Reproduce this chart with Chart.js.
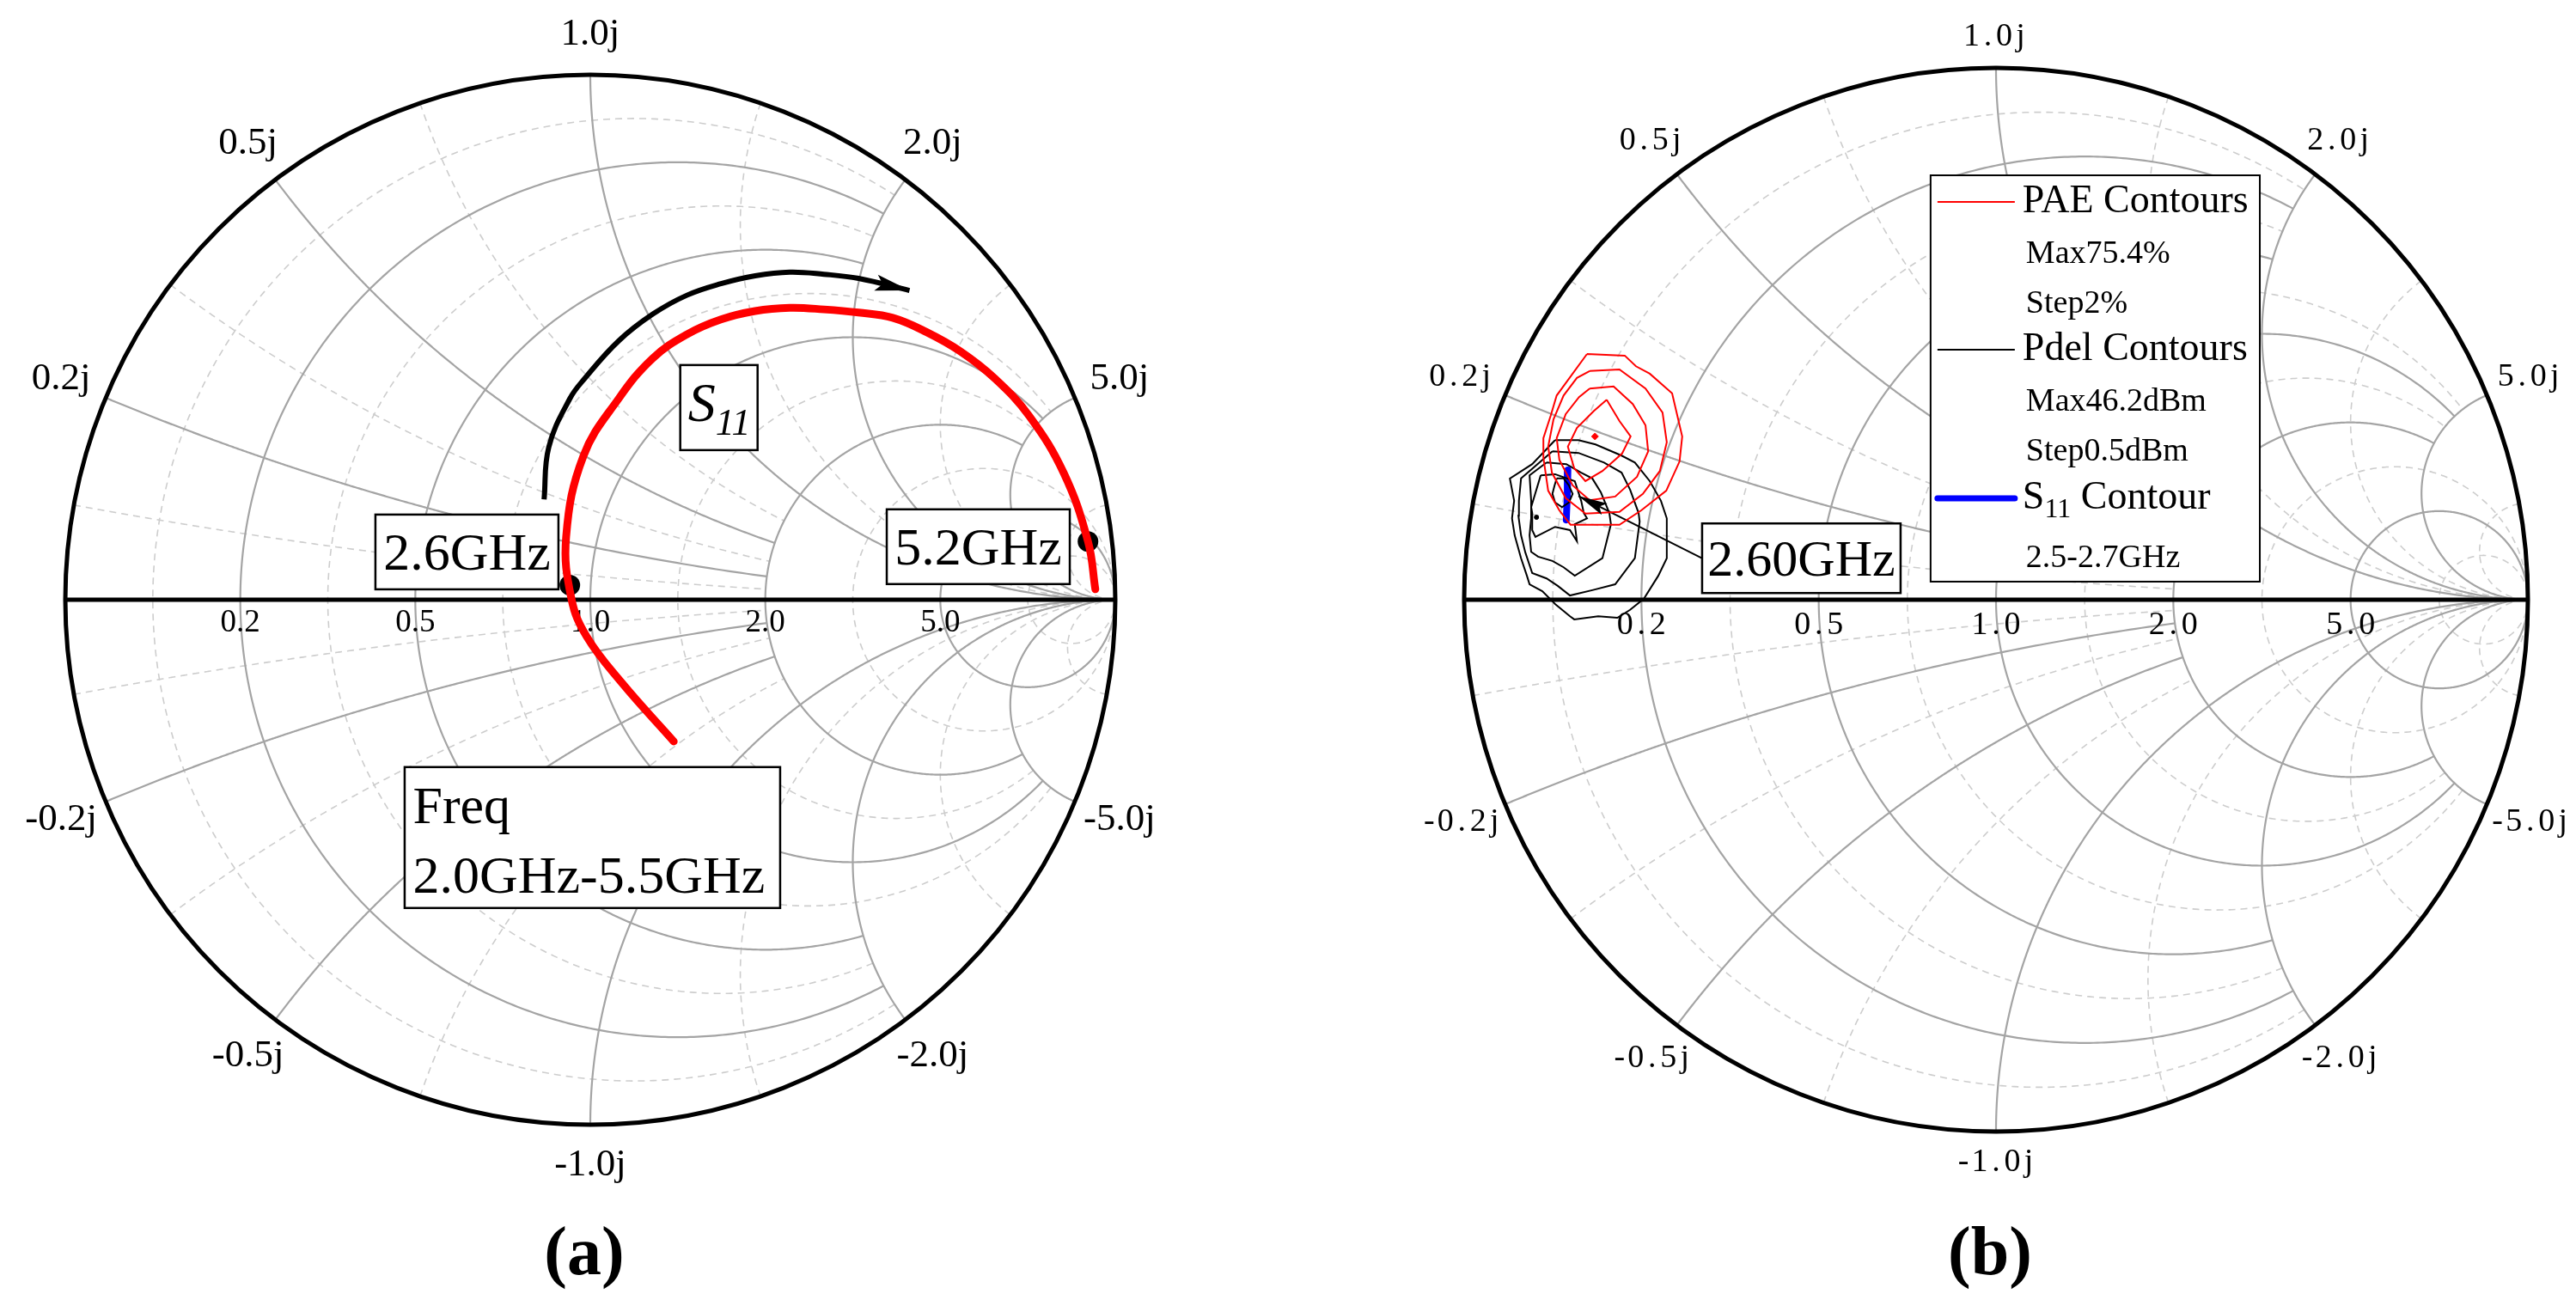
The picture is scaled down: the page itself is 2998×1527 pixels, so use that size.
<!DOCTYPE html>
<html>
<head>
<meta charset="utf-8">
<title>Smith charts</title>
<script src="https://cdn.jsdelivr.net/npm/chart.js@4.4.0/dist/chart.umd.min.js"></script>
<style>
  body { margin: 0; background: #fff; }
  .panel { position: absolute; top: 0; }
</style>
</head>
<body>
<canvas id="chartA" class="panel" style="left:0" width="1499" height="1527"></canvas>
<canvas id="chartB" class="panel" style="left:1499px" width="1499" height="1527"></canvas>
<script>
// smith grid values (normalised z)
const gridMajor = [0.2, 0.5, 1.0, 2.0, 5.0];
const gridMinor = [1 / 11, 1 / 3, 5 / 7, 1.4, 3, 11];
// where each circle / arc gets cut off
const majorCircleStop = [2, 2, 5, 5, Infinity];
const majorArcStop = [2, 2, Infinity, Infinity, Infinity];
const minorCircleStop = [2, 2, 5, 5, Infinity, Infinity];
const minorArcStop = [2, 2, 2, Infinity, Infinity, Infinity];

// (a) S11 sweep 2.0-5.5 GHz, reflection coefficient
const s11Re = [0.159, 0.059, -0.007, -0.036, -0.046, -0.013, 0.054, 0.119, 0.185, 0.249, 0.314, 0.380, 0.445, 0.511, 0.576, 0.640, 0.705, 0.771, 0.836, 0.902, 0.948, 0.962];
const s11Im = [-0.270, -0.157, -0.070, 0.002, 0.120, 0.274, 0.383, 0.460, 0.506, 0.534, 0.550, 0.556, 0.553, 0.547, 0.537, 0.510, 0.473, 0.421, 0.350, 0.241, 0.111, 0.020];
const sweepArrowRe = [-0.088, -0.079, -0.039, -0.011, 0.054, 0.119, 0.184, 0.249, 0.314, 0.380, 0.445, 0.511, 0.608];
const sweepArrowIm = [0.191, 0.291, 0.383, 0.421, 0.493, 0.544, 0.580, 0.602, 0.617, 0.624, 0.620, 0.612, 0.589];
const markerLabels = ['2.6GHz', '5.2GHz'];
const markerRe = [-0.039, 0.948];
const markerIm = [0.028, 0.111];
const sweepText = ['Freq', '2.0GHz-5.5GHz'];

// (b) load pull contours
const pae1 = [[-0.769, 0.462], [-0.698, 0.459], [-0.677, 0.439], [-0.651, 0.425], [-0.609, 0.388], [-0.590, 0.307], [-0.595, 0.260], [-0.620, 0.205], [-0.667, 0.168], [-0.708, 0.141], [-0.800, 0.141], [-0.821, 0.168], [-0.842, 0.205], [-0.851, 0.267], [-0.851, 0.304], [-0.837, 0.347], [-0.826, 0.384]];
const pae2 = [[-0.764, 0.430], [-0.708, 0.433], [-0.659, 0.397], [-0.627, 0.352], [-0.619, 0.296], [-0.632, 0.242], [-0.664, 0.199], [-0.708, 0.165], [-0.772, 0.162], [-0.809, 0.191], [-0.835, 0.239], [-0.842, 0.288], [-0.832, 0.339], [-0.813, 0.384], [-0.788, 0.417]];
const pae3 = [[-0.764, 0.397], [-0.719, 0.401], [-0.683, 0.368], [-0.659, 0.328], [-0.654, 0.279], [-0.675, 0.231], [-0.716, 0.194], [-0.764, 0.187], [-0.796, 0.215], [-0.821, 0.263], [-0.826, 0.304], [-0.809, 0.349], [-0.784, 0.381]];
const pae4 = [[-0.732, 0.376], [-0.708, 0.336], [-0.687, 0.307], [-0.703, 0.275], [-0.740, 0.242], [-0.772, 0.223], [-0.793, 0.247], [-0.805, 0.288], [-0.788, 0.323], [-0.756, 0.355]];
const paeMax = [-0.754, 0.307];
const pdel1 = [[-0.829, 0.300], [-0.785, 0.300], [-0.753, 0.292], [-0.704, 0.271], [-0.679, 0.258], [-0.651, 0.223], [-0.630, 0.186], [-0.619, 0.153], [-0.619, 0.078], [-0.635, 0.045], [-0.662, 0.002], [-0.688, -0.019], [-0.712, -0.034], [-0.748, -0.031], [-0.793, -0.037], [-0.801, -0.031], [-0.829, -0.008], [-0.853, 0.016], [-0.877, 0.029], [-0.882, 0.045], [-0.893, 0.078], [-0.905, 0.121], [-0.910, 0.153], [-0.906, 0.186], [-0.914, 0.228], [-0.872, 0.255]];
const pdel2 = [[-0.834, 0.279], [-0.785, 0.276], [-0.737, 0.258], [-0.704, 0.239], [-0.688, 0.207], [-0.672, 0.163], [-0.670, 0.147], [-0.679, 0.078], [-0.716, 0.029], [-0.759, 0.018], [-0.801, 0.008], [-0.824, 0.026], [-0.845, 0.040], [-0.872, 0.050], [-0.885, 0.089], [-0.893, 0.121], [-0.898, 0.158], [-0.897, 0.186], [-0.893, 0.228]];
const pdel3 = [[-0.845, 0.258], [-0.808, 0.255], [-0.780, 0.239], [-0.759, 0.228], [-0.743, 0.202], [-0.727, 0.163], [-0.724, 0.142], [-0.740, 0.078], [-0.792, 0.045], [-0.813, 0.061], [-0.834, 0.073], [-0.861, 0.081], [-0.874, 0.090], [-0.877, 0.121], [-0.874, 0.153], [-0.874, 0.186], [-0.877, 0.234]];
const pdel4 = [[-0.856, 0.234], [-0.829, 0.236], [-0.792, 0.223], [-0.780, 0.186], [-0.775, 0.163], [-0.769, 0.153], [-0.792, 0.142], [-0.788, 0.110], [-0.801, 0.131], [-0.829, 0.137], [-0.866, 0.118], [-0.872, 0.131], [-0.872, 0.163], [-0.874, 0.174]];
const pdel5 = [[-0.826, 0.228], [-0.813, 0.228], [-0.803, 0.215], [-0.796, 0.199], [-0.803, 0.183], [-0.816, 0.174], [-0.829, 0.183], [-0.834, 0.199], [-0.830, 0.215]];
const pdelMax = [-0.864, 0.155];
const s11BandRe = [-0.805, -0.806, -0.808];
const s11BandIm = [0.244, 0.197, 0.150];
const leaderRe = [-0.553, -0.785];
const leaderIm = [0.078, 0.195];
const seriesLabels = ['PAE Contours', 'Pdel Contours', 'S11 Contour'];
const paeNotes = ['Max75.4%', 'Step2%'];
const pdelNotes = ['Max46.2dBm', 'Step0.5dBm'];
const s11Notes = ['2.5-2.7GHz'];
const bandLabel = '2.60GHz';

const SERIF = '"Liberation Serif", "Times New Roman", serif';

function gamma(r, x) {
  const d = (r + 1) * (r + 1) + x * x;
  return [(r * r + x * x - 1) / d, 2 * x / d];
}

function circlePoints(r, xStop) {
  const pts = [], n = 500, tm = Math.atan(xStop / (r + 1));
  for (let i = 0; i <= n; i++) {
    const t = -tm + 2 * tm * i / n;
    pts.push(gamma(r, (r + 1) * Math.tan(t)));
  }
  return pts;
}

function arcPoints(x, rStop) {
  const pts = [], n = 500, ax = Math.abs(x), tm = Math.atan(rStop / ax);
  for (let i = 0; i <= n; i++) {
    pts.push(gamma(ax * Math.tan(tm * i / n), x));
  }
  return pts;
}

function strokePath(ctx, sx, sy, pts) {
  ctx.beginPath();
  pts.forEach((p, i) => {
    const px = sx.getPixelForValue(p[0]), py = sy.getPixelForValue(p[1]);
    if (i === 0) ctx.moveTo(px, py); else ctx.lineTo(px, py);
  });
  ctx.stroke();
}

function monoText(ctx, text, cx, cy, size) {
  const cell = size * 0.5;
  const start = cx - text.length * cell / 2;
  for (let i = 0; i < text.length; i++) ctx.fillText(text[i], start + cell * (i + 0.5), cy);
}

function label(ctx, o, text, x, y, size) {
  ctx.font = size + 'px ' + SERIF;
  if (o.mono) monoText(ctx, text, x, y, size);
  else ctx.fillText(text, x, y);
}

function arrowHead(ctx, x0, y0, x1, y1, len, wid) {
  const a = Math.atan2(y1 - y0, x1 - x0);
  ctx.save();
  ctx.translate(x1, y1);
  ctx.rotate(a);
  ctx.beginPath();
  ctx.moveTo(0, 0);
  ctx.lineTo(-len, -wid / 2);
  ctx.lineTo(-len * 0.8, 0);
  ctx.lineTo(-len, wid / 2);
  ctx.closePath();
  ctx.fillStyle = '#000';
  ctx.fill();
  ctx.restore();
}

function frame(ctx, cx, cy, w, h) {
  ctx.fillStyle = '#fff';
  ctx.fillRect(cx - w / 2, cy - h / 2, w, h);
  ctx.strokeStyle = '#000';
  ctx.lineWidth = 2.5;
  ctx.strokeRect(cx - w / 2, cy - h / 2, w, h);
  ctx.fillStyle = '#000';
}

const smithPlugin = {
  id: 'smith',
  beforeDatasetsDraw(chart, args, o) {
    const ctx = chart.ctx, sx = chart.scales.x, sy = chart.scales.y;
    ctx.save();
    ctx.strokeStyle = '#cdcdcd';
    ctx.lineWidth = 1.6;
    ctx.setLineDash([8, 6]);
    gridMinor.forEach((v, i) => {
      strokePath(ctx, sx, sy, circlePoints(v, minorCircleStop[i]));
      strokePath(ctx, sx, sy, arcPoints(v, minorArcStop[i]));
      strokePath(ctx, sx, sy, arcPoints(-v, minorArcStop[i]));
    });
    ctx.setLineDash([]);
    ctx.strokeStyle = '#a4a4a4';
    ctx.lineWidth = 2.2;
    gridMajor.forEach((v, i) => {
      strokePath(ctx, sx, sy, circlePoints(v, majorCircleStop[i]));
      strokePath(ctx, sx, sy, arcPoints(v, majorArcStop[i]));
      strokePath(ctx, sx, sy, arcPoints(-v, majorArcStop[i]));
    });

    const cx = sx.getPixelForValue(0), cy = sy.getPixelForValue(0);
    const R = sx.getPixelForValue(1) - cx;
    ctx.strokeStyle = '#000';
    ctx.lineWidth = 5;
    ctx.beginPath();
    ctx.moveTo(cx - R, cy);
    ctx.lineTo(cx + R, cy);
    ctx.stroke();
    ctx.beginPath();
    ctx.arc(cx, cy, R, 0, Math.PI * 2);
    ctx.stroke();

    ctx.fillStyle = '#000';
    ctx.textAlign = 'center';
    ctx.textBaseline = 'middle';
    gridMajor.forEach(v => {
      const g = (v - 1) / (v + 1);
      label(ctx, o, v.toFixed(1), sx.getPixelForValue(g), cy + o.rGap, o.rFont);
    });
    gridMajor.forEach(v => {
      [v, -v].forEach(xv => {
        const g = gamma(0, xv);
        const d = R + o.xGap + o.xSide * Math.abs(g[0]);
        label(ctx, o, xv.toFixed(1) + 'j', cx + g[0] * d, cy - g[1] * d, o.xFont);
      });
    });
    ctx.restore();
  },
  afterDraw(chart, args, o) {
    const ctx = chart.ctx;
    ctx.save();
    ctx.fillStyle = '#000';
    ctx.font = 'bold 80px ' + SERIF;
    ctx.textAlign = 'center';
    ctx.textBaseline = 'middle';
    ctx.fillText(o.caption, chart.scales.x.getPixelForValue(0) - 7, 1462);
    ctx.restore();
  }
};

const annotateA = {
  id: 'annotateA',
  beforeDatasetsDraw(chart) {
    const ctx = chart.ctx, sx = chart.scales.x, sy = chart.scales.y;
    ctx.save();
    ctx.font = '62px ' + SERIF;
    ctx.textAlign = 'center';
    ctx.textBaseline = 'alphabetic';
    // frequency marker boxes
    const boxAt = [[-0.235, 0.091], [0.739, 0.101]];
    markerLabels.forEach((t, i) => {
      const cx = sx.getPixelForValue(boxAt[i][0]), cy = sy.getPixelForValue(boxAt[i][1]);
      frame(ctx, cx, cy, 213, 87);
      ctx.fillText(t, cx, cy + 21);
    });
    // S11 tag
    let cx = sx.getPixelForValue(0.245), cy = sy.getPixelForValue(0.366);
    frame(ctx, cx, cy, 90, 99);
    ctx.textAlign = 'left';
    ctx.font = 'italic 64px ' + SERIF;
    ctx.fillText('S', cx - 36, cy + 16);
    ctx.font = 'italic 44px ' + SERIF;
    ctx.fillText('11', cx - 4, cy + 32);
    // sweep range box
    cx = sx.getPixelForValue(0.004);
    cy = sy.getPixelForValue(-0.453);
    frame(ctx, cx, cy, 437, 164);
    ctx.font = '62px ' + SERIF;
    ctx.fillText(sweepText[0], cx - 209, cy - 17);
    ctx.fillText(sweepText[1], cx - 209, cy + 64);
    ctx.restore();
  },
  afterDatasetsDraw(chart) {
    const sx = chart.scales.x, sy = chart.scales.y, n = sweepArrowRe.length;
    arrowHead(chart.ctx,
      sx.getPixelForValue(sweepArrowRe[n - 2]), sy.getPixelForValue(sweepArrowIm[n - 2]),
      sx.getPixelForValue(sweepArrowRe[n - 1]), sy.getPixelForValue(sweepArrowIm[n - 1]), 40, 19);
  }
};

const annotateB = {
  id: 'annotateB',
  beforeDatasetsDraw(chart) {
    const ctx = chart.ctx, sx = chart.scales.x, sy = chart.scales.y;
    ctx.save();
    // frequency tag
    const cx = sx.getPixelForValue(-0.366), cy = sy.getPixelForValue(0.078);
    frame(ctx, cx, cy, 231, 81);
    ctx.font = '60px ' + SERIF;
    ctx.textAlign = 'center';
    ctx.textBaseline = 'alphabetic';
    ctx.fillText(bandLabel, cx, cy + 20);

    // legend
    const left = sx.getPixelForValue(-0.123), top = sy.getPixelForValue(0.798);
    const right = sx.getPixelForValue(0.496), bottom = sy.getPixelForValue(0.034);
    ctx.fillStyle = '#fff';
    ctx.fillRect(left, top, right - left, bottom - top);
    ctx.strokeStyle = '#000';
    ctx.lineWidth = 2;
    ctx.strokeRect(left, top, right - left, bottom - top);

    const ds = chart.data.datasets;
    const rows = [];
    seriesLabels.forEach((name, k) => {
      rows.push({ name, set: ds.find(d => d.label === name) });
      [paeNotes, pdelNotes, s11Notes][k].forEach(t => rows.push({ note: t }));
    });
    const rowY = [31, 92, 150, 203, 264, 322, 376, 446];
    ctx.textAlign = 'left';
    ctx.textBaseline = 'middle';
    ctx.fillStyle = '#000';
    rows.forEach((row, i) => {
      const y = top + rowY[i], tx = left + 111;
      if (row.note) {
        ctx.font = '38px ' + SERIF;
        ctx.fillText(row.note, tx, y);
        return;
      }
      ctx.strokeStyle = row.set.borderColor;
      ctx.lineWidth = row.set.borderWidth > 4 ? 7 : 2;
      ctx.lineCap = row.set.borderWidth > 4 ? 'round' : 'butt';
      ctx.beginPath();
      ctx.moveTo(left + 8, y);
      ctx.lineTo(left + 98, y);
      ctx.stroke();
      ctx.font = '46px ' + SERIF;
      if (row.name.startsWith('S11')) {
        ctx.fillText('S', tx - 4, y);
        const w = ctx.measureText('S').width;
        ctx.font = '32px ' + SERIF;
        ctx.fillText('11', tx - 4 + w, y + 14);
        const w2 = ctx.measureText('11').width;
        ctx.font = '46px ' + SERIF;
        ctx.fillText(row.name.slice(3), tx - 4 + w + w2, y);
      } else {
        ctx.fillText(row.name, tx - 4, y);
      }
    });
    ctx.restore();
  },
  afterDatasetsDraw(chart) {
    const sx = chart.scales.x, sy = chart.scales.y;
    arrowHead(chart.ctx,
      sx.getPixelForValue(leaderRe[0]), sy.getPixelForValue(leaderIm[0]),
      sx.getPixelForValue(leaderRe[1]), sy.getPixelForValue(leaderIm[1]), 34, 15);
  }
};

const toPoints = (re, im) => re.map((v, i) => ({ x: v, y: im[i] }));
const loop = pairs => pairs.concat([pairs[0]]).map(p => ({ x: p[0], y: p[1] }));

function axes() {
  return {
    x: { type: 'linear', min: -1, max: 1, display: false },
    y: { type: 'linear', min: -1, max: 1, display: false }
  };
}

new Chart(document.getElementById('chartA'), {
  type: 'scatter',
  data: {
    datasets: [
      { label: 'S11', data: toPoints(s11Re, s11Im), showLine: true, borderColor: '#ff0000', borderWidth: 9, tension: 0.4, pointRadius: 0, borderCapStyle: 'round' },
      { label: 'sweep', data: toPoints(sweepArrowRe, sweepArrowIm), showLine: true, borderColor: '#000000', borderWidth: 6, tension: 0.4, pointRadius: 0 },
      { label: 'markers', data: toPoints(markerRe, markerIm), showLine: false, pointRadius: 12, pointBackgroundColor: '#000000', pointBorderColor: '#000000', pointBorderWidth: 0 }
    ]
  },
  options: {
    responsive: false,
    devicePixelRatio: 1,
    animation: false,
    events: [],
    layout: { padding: { left: 76, right: 201, top: 87, bottom: 218 } },
    scales: axes(),
    plugins: {
      legend: { display: false },
      tooltip: { enabled: false },
      smith: { mono: false, rFont: 37, xFont: 45, rGap: 27, xGap: 47, xSide: 10, caption: '(a)' }
    }
  },
  plugins: [smithPlugin, annotateA]
});

const contourSets = [];
[pae1, pae2, pae3, pae4].forEach((c, i) => contourSets.push({
  label: i === 0 ? seriesLabels[0] : 'pae' + (i + 1), data: loop(c), showLine: true,
  borderColor: '#ff0000', borderWidth: 2, pointRadius: 0, tension: 0
}));
[pdel1, pdel2, pdel3, pdel4, pdel5].forEach((c, i) => contourSets.push({
  label: i === 0 ? seriesLabels[1] : 'pdel' + (i + 1), data: loop(c), showLine: true,
  borderColor: '#000000', borderWidth: 2, pointRadius: 0, tension: 0
}));

new Chart(document.getElementById('chartB'), {
  type: 'scatter',
  data: {
    datasets: contourSets.concat([
      { label: 'pae max', data: [{ x: paeMax[0], y: paeMax[1] }], pointStyle: 'rectRot', pointRadius: 4, pointBackgroundColor: '#ff0000', pointBorderColor: '#ff0000' },
      { label: 'pdel max', data: [{ x: pdelMax[0], y: pdelMax[1] }], pointRadius: 2.5, pointBackgroundColor: '#000000', pointBorderColor: '#000000' },
      { label: seriesLabels[2], data: toPoints(s11BandRe, s11BandIm), showLine: true, borderColor: '#0000ff', borderWidth: 8, borderCapStyle: 'round', pointRadius: 0 },
      { label: 'leader', data: toPoints(leaderRe, leaderIm), showLine: true, borderColor: '#000000', borderWidth: 2, pointRadius: 0 }
    ])
  },
  options: {
    responsive: false,
    devicePixelRatio: 1,
    animation: false,
    events: [],
    layout: { padding: { left: 205, right: 56, top: 79, bottom: 210 } },
    scales: axes(),
    plugins: {
      legend: { display: false },
      tooltip: { enabled: false },
      smith: { mono: true, rFont: 38, xFont: 38, rGap: 30, xGap: 36, xSide: 20, caption: '(b)' }
    }
  },
  plugins: [smithPlugin, annotateB]
});
</script>
</body>
</html>
